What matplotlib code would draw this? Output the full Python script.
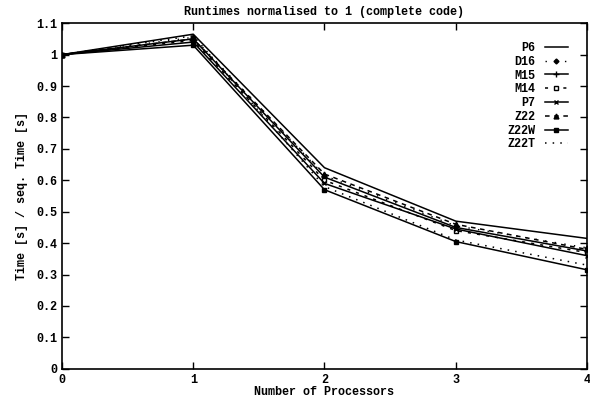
import matplotlib
matplotlib.use("Agg")
import matplotlib.pyplot as plt
from matplotlib.ticker import FuncFormatter

# number of processors
procs = [0, 1, 2, 3, 4]

# normalised runtimes per code
P6   = [1.0, 1.065, 0.640, 0.470, 0.415]
D16  = [1.0, 1.055, 0.615, 0.455, 0.385]
M15  = [1.0, 1.050, 0.610, 0.450, 0.375]
M14  = [1.0, 1.045, 0.600, 0.440, 0.370]
P7   = [1.0, 1.040, 0.590, 0.445, 0.360]
Z22  = [1.0, 1.050, 0.620, 0.460, 0.380]
Z22W = [1.0, 1.030, 0.570, 0.405, 0.315]
Z22T = [1.0, 1.060, 0.580, 0.410, 0.330]

plt.rcParams['font.family'] = ['Liberation Mono', 'DejaVu Sans Mono']
plt.rcParams['font.size'] = 8.5
plt.rcParams['font.weight'] = 'bold'
plt.rcParams['axes.labelweight'] = 'bold'
plt.rcParams['axes.titleweight'] = 'bold'

fig = plt.figure(figsize=(5.9, 4.0), dpi=100)
ax = fig.add_axes([0.105, 0.078, 0.89, 0.864])

k = dict(color='black', lw=1.1, ms=3.5)
ax.plot(procs, P6, '-', label='P6', **k)
ax.plot(procs, D16, linestyle=(0, (1, 6)), marker='D', ms=2.5, color='black', lw=1.0, label='D16')
ax.plot(procs, M15, '-', marker='+', label='M15', color='black', lw=1.1, ms=5)
ax.plot(procs, M14, linestyle=(0, (2, 4)), marker='s', mfc='white', label='M14', **k)
ax.plot(procs, P7, '-', marker='x', label='P7', **k)
ax.plot(procs, Z22, linestyle=(0, (3, 3)), marker='^', label='Z22', **k)
ax.plot(procs, Z22W, '-', marker='s', label='Z22W', **k)
ax.plot(procs, Z22T, linestyle=(0, (1, 4)), label='Z22T', color='black', lw=1.1)

ax.set_xlim(0, 4)
ax.set_ylim(0, 1.1)
ax.set_xticks(procs)
ax.set_yticks([i / 10 for i in range(12)])
ax.yaxis.set_major_formatter(FuncFormatter(lambda v, p: '%g' % round(v, 2)))
ax.tick_params(direction='in', top=True, right=True, length=5, width=1)
for s in ax.spines.values():
    s.set_linewidth(1.2)

ax.set_title('Runtimes normalised to 1 (complete code)', fontsize=8.5, pad=6)
ax.set_xlabel('Number of Processors', labelpad=0)
ax.set_ylabel('Time [s] / seq. Time [s]', labelpad=6)

leg = ax.legend(loc='upper right', frameon=False, markerfirst=False,
                handlelength=2.0, labelspacing=0.15, borderaxespad=1.2,
                handletextpad=0.8)

fig.savefig('out.png', dpi=100)
